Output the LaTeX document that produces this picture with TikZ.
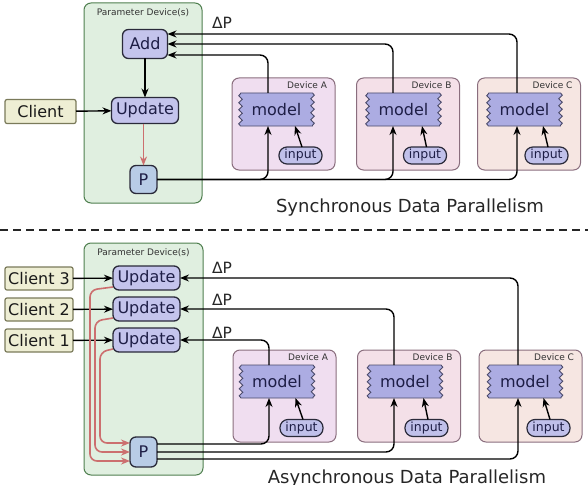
\documentclass[tikz,border=0pt]{standalone}
\usepackage{fontspec}
\setmainfont{DejaVu Sans}
\usetikzlibrary{arrows.meta,decorations.pathmorphing,calc}
\definecolor{pgreen}{HTML}{E0EFE0}
\definecolor{pborder}{HTML}{4F7F4F}
\definecolor{clientfill}{HTML}{EEEED4}
\definecolor{clientborder}{HTML}{7A7A5A}
\definecolor{opfill}{HTML}{C4C4EC}
\definecolor{opborder}{HTML}{2A2A3A}
\definecolor{pfill}{HTML}{B8CCE6}
\definecolor{devA}{HTML}{F0DEF0}
\definecolor{devB}{HTML}{F4E0E8}
\definecolor{devC}{HTML}{F6E6E2}
\definecolor{devborder}{HTML}{8A6E7E}
\definecolor{modelfill}{HTML}{ACACE2}
\definecolor{modelborder}{HTML}{4A4A6A}
\definecolor{inputfill}{HTML}{C0C0EA}
\definecolor{redline}{HTML}{CC6F6F}
\definecolor{navy}{HTML}{1E1E46}
\newcommand\fsz[1]{\fontsize{#1}{#1}\selectfont}
\newcommand\mdl[3]{%
  \draw[modelline,decoration={snake,amplitude=1.8pt,segment length=7pt}]
    ($(#2)+(-36,-16.5)$) -- ($(#2)+(36,-16.5)$)
    decorate{-- ($(#2)+(36,16.5)$)} -- ($(#2)+(-36,16.5)$)
    decorate{-- ($(#2)+(-36,-16.5)$)};
  \node[modeltext] (#1) at (#2) {#3};}
\begin{document}
\begin{tikzpicture}[x=1pt,y=-1pt,
  every node/.style={inner sep=0pt,outer sep=0pt},
  pbox/.style={draw=pborder,fill=pgreen,line width=1pt,rounded corners=7pt},
  op/.style={draw=opborder,fill=opfill,line width=1.3pt,rounded corners=6pt,text=navy,font=\fsz{16}},
  pn/.style={op,fill=pfill},
  client/.style={draw=clientborder,fill=clientfill,line width=1.2pt,rounded corners=2pt,text=black!90,font=\fsz{16}},
  dev/.style={draw=devborder,line width=1pt,rounded corners=7pt,minimum width=103pt,minimum height=92pt},
  small/.style={font=\fsz{9},text=black!80},
  modelline/.style={draw=modelborder,fill=modelfill,line width=0.9pt},
  modeltext/.style={minimum width=72pt,minimum height=33pt,text=navy,font=\fsz{16}},
  inp/.style={draw=opborder,fill=inputfill,line width=1.2pt,rounded corners=8pt,minimum width=43pt,minimum height=17pt,text=navy,font=\fsz{12.5}},
  arr/.style={-{Stealth[length=9pt,width=7pt]},line width=1.4pt,black,rounded corners=8pt},
  redarr/.style={-{Stealth[length=9pt,width=7pt]},line width=1.6pt,redline,rounded corners=7pt},
  ttl/.style={font=\fsz{18},text=black!85},
  dp/.style={font=\fsz{15.5},text=black!85},
  sep/.style={line width=1.8pt,dash pattern=on 8pt off 5pt,black!85}]
\useasboundingbox (0,0) rectangle (588,484);
% ---------------- synchronous ----------------
\node[pbox,minimum width=118pt,minimum height=200pt] (pd1) at (143,103) {};
\node[small,anchor=north] (pd1l) at ([yshift=-6pt]pd1.north) {Parameter Device(s)};
\node[op,minimum width=45pt,minimum height=29pt] (add) at (145,44) {Add};
\node[op,minimum width=67pt,minimum height=26pt] (upd) at (145,110.5) {Update};
\node[pn,minimum width=27pt,minimum height=28pt] (p1) at (143.5,179.5) {P};
\node[client,minimum width=71pt,minimum height=24pt] (cl) at (40.5,111.5) {Client};
\node[dp] (dp1) at (222,23) {ΔP};
\node[dev,fill=devA] (dA) at (283.5,124) {};
\node[dev,fill=devB] (dB) at (408,124) {};
\node[dev,fill=devC] (dC) at (529,124) {};
\node[small,anchor=north east] (lA) at ([xshift=-8pt,yshift=-4pt]dA.north east) {Device A};
\node[small,anchor=north east] (lB) at ([xshift=-8pt,yshift=-4pt]dB.north east) {Device B};
\node[small,anchor=north east] (lC) at ([xshift=-8pt,yshift=-4pt]dC.north east) {Device C};
\mdl{mA}{276.5,109.5}{model}
\mdl{mB}{403.5,109.5}{model}
\mdl{mC}{524.5,109.5}{model}
\node[inp] (iA) at (300.5,155.5) {input};
\node[inp] (iB) at (425,155.5) {input};
\node[inp] (iC) at (546.5,155.5) {input};
\draw[arr] (add) -- (upd);
\draw[arr] (cl) -- (upd);
\draw[redarr] (upd.south -| p1) -- (p1);
\draw[arr] ([xshift=-8.5pt]mA.north) |- ([yshift=-11pt]add.east);
\draw[arr] ([xshift=-10.5pt]mB.north) |- (add.east);
\draw[arr] ([xshift=-7.5pt]mC.north) |- ([yshift=10pt]add.east);
\draw[arr] (p1.east) -| ([xshift=-8.5pt]mA.south);
\draw[arr] (p1.east) -| ([xshift=-10.5pt]mB.south);
\draw[arr] (p1.east) -| ([xshift=-7.5pt]mC.south);
\draw[arr] ([xshift=1.5pt]iA.north) -- ([xshift=18.5pt]mA.south);
\draw[arr] ([xshift=1.5pt]iB.north) -- ([xshift=18.5pt]mB.south);
\draw[arr] ([xshift=1.5pt]iC.north) -- ([xshift=18.5pt]mC.south);
\node[ttl,anchor=base] (t1) at (410,212) {Synchronous Data Parallelism};
% separator
\coordinate (sl) at (0,230);
\coordinate (sr) at (588,230);
\draw[sep] (sl) -- (sr);
% ---------------- asynchronous ----------------
\node[pbox,minimum width=119pt,minimum height=232pt] (pd2) at (143.5,359) {};
\node[small,anchor=north] (pd2l) at ([yshift=-6pt]pd2.north) {Parameter Device(s)};
\node[op,minimum width=67pt,minimum height=24pt] (u3) at (146.5,278) {Update};
\node[op,minimum width=67pt,minimum height=24pt] (u2) at (146.5,309) {Update};
\node[op,minimum width=67pt,minimum height=24pt] (u1) at (146.5,340) {Update};
\node[pn,minimum width=27pt,minimum height=30pt] (p2) at (143.5,452) {P};
\node[client,minimum width=68pt,minimum height=23pt] (c3) at (39,278.5) {Client 3};
\node[client,minimum width=68pt,minimum height=23pt] (c2) at (39,309.5) {Client 2};
\node[client,minimum width=68pt,minimum height=23pt] (c1) at (39,340.5) {Client 1};
\node[dp] (dp3) at (222,268) {ΔP};
\node[dp] (dp2) at (222,300) {ΔP};
\node[dp] (dp1b) at (222,333) {ΔP};
\node[dev,fill=devA] (dA2) at (284.5,396) {};
\node[dev,fill=devB] (dB2) at (409,396) {};
\node[dev,fill=devC] (dC2) at (530.5,396) {};
\node[small,anchor=north east] (lA2) at ([xshift=-8pt,yshift=-4pt]dA2.north east) {Device A};
\node[small,anchor=north east] (lB2) at ([xshift=-8pt,yshift=-4pt]dB2.north east) {Device B};
\node[small,anchor=north east] (lC2) at ([xshift=-8pt,yshift=-4pt]dC2.north east) {Device C};
\mdl{mA2}{277,381.5}{model}
\mdl{mB2}{405,381.5}{model}
\mdl{mC2}{525,381.5}{model}
\node[inp] (iA2) at (301.5,428) {input};
\node[inp] (iB2) at (426.5,428) {input};
\node[inp] (iC2) at (548.5,428) {input};
\draw[arr] (c3) -- (u3);
\draw[arr] (c2) -- (u2);
\draw[arr] (c1) -- (u1);
\draw[arr] ([xshift=-7pt]mC2.north) |- (u3.east);
\draw[arr] ([xshift=-11pt]mB2.north) |- (u2.east);
\draw[arr] ([xshift=-8pt]mA2.north) |- (u1.east);
\draw[arr] ([yshift=8pt]p2.east) -| ([xshift=-8pt]mA2.south);
\draw[arr] (p2.east) -| ([xshift=-11pt]mB2.south);
\draw[arr] ([yshift=-7pt]p2.east) -| ([xshift=-7pt]mC2.south);
\draw[arr] ([xshift=1.5pt]iA2.north) -- ([xshift=18.5pt]mA2.south);
\draw[arr] ([xshift=1.5pt]iB2.north) -- ([xshift=18.5pt]mB2.south);
\draw[arr] ([xshift=1.5pt]iC2.north) -- ([xshift=18.5pt]mC2.south);
\draw[redarr] ([yshift=3pt]u3.south west) -- ++(-23,3) |- ([yshift=-9pt]p2.west);
\draw[redarr] ([yshift=3pt]u2.south west) -- ++(-18,3) |- (p2.west);
\draw[redarr] ([yshift=3pt]u1.south west) -- ++(-13,3) |- ([yshift=9pt]p2.west);
\node[ttl,anchor=base] (t2) at (407,483) {Asynchronous Data Parallelism};
\end{tikzpicture}
\end{document}
